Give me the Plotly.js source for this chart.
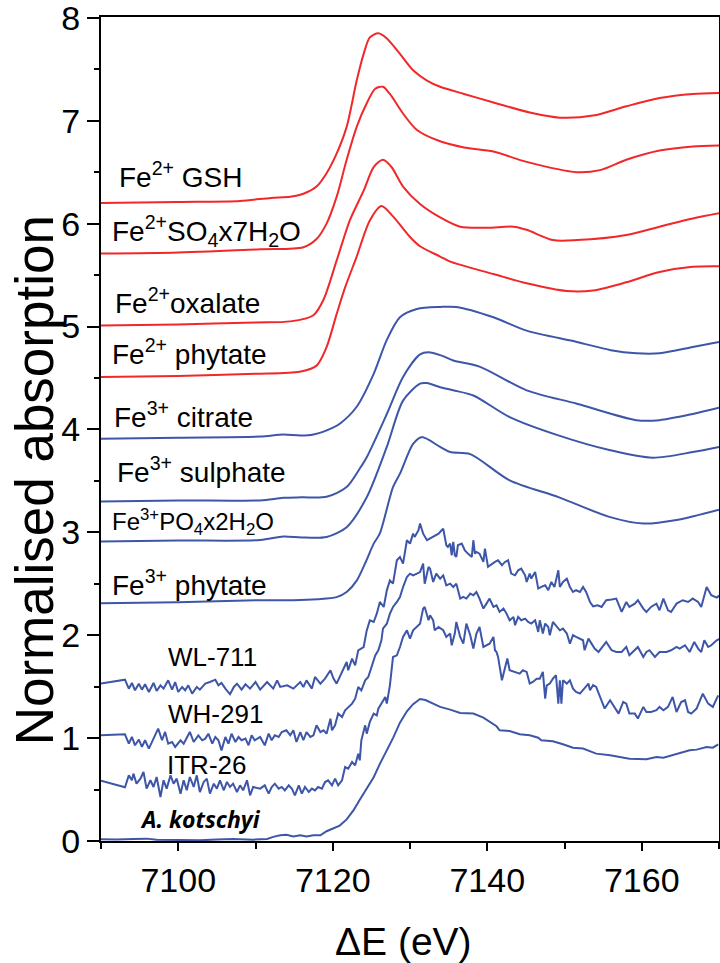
<!DOCTYPE html>
<html>
<head>
<meta charset="utf-8">
<script src="https://cdn.plot.ly/plotly-3.0.1.min.js"></script>
<style>html,body{margin:0;padding:0;background:#fff;}#chart{width:720px;height:963px;}</style>
</head>
<body>
<div id="chart"></div>
<script>
// ---- data: [energy (eV), normalised absorption] ----
const fe2GSH = [[7090,6.20],[7100,6.21],[7108,6.22],[7112,6.25],[7114.5,6.26],[7116.2,6.29],[7117.9,6.36],[7119.2,6.49],[7120.5,6.68],[7121.8,6.94],[7123.1,7.39],[7124,7.65],[7124.8,7.81],[7125.9,7.85],[7127,7.80],[7128.7,7.65],[7130.4,7.49],[7132.2,7.39],[7133.9,7.33],[7137,7.26],[7140.7,7.18],[7145.5,7.08],[7149.4,7.03],[7153.7,7.05],[7158,7.14],[7162.3,7.22],[7166.6,7.26],[7170,7.27]];
const fe2SO4 = [[7090,5.71],[7100,5.72],[7110.6,5.75],[7116.2,5.77],[7117.9,5.85],[7119.2,6.00],[7120.5,6.26],[7121.8,6.62],[7123.1,6.94],[7124.4,7.17],[7125.5,7.31],[7126.5,7.33],[7127.4,7.26],[7129.1,7.07],[7130.9,6.91],[7133.9,6.80],[7137,6.74],[7140.8,6.70],[7145.1,6.60],[7151.6,6.50],[7154.6,6.52],[7158,6.62],[7162.3,6.71],[7166.6,6.75],[7170,6.76]];
const fe2Oxalate = [[7090,5.01],[7100,5.02],[7110,5.04],[7114.5,5.05],[7117.5,5.11],[7118.8,5.26],[7120.5,5.64],[7122.2,6.03],[7124.0,6.32],[7125.3,6.55],[7126.5,6.62],[7127.6,6.55],[7129.1,6.36],[7131.3,6.19],[7133.9,6.06],[7136.5,5.97],[7140,5.96],[7143.4,5.97],[7145.1,5.94],[7148.5,5.84],[7151.6,5.84],[7158,5.89],[7162.3,5.97],[7166.6,6.05],[7170,6.10]];
const fe2Phytate = [[7090,4.51],[7100,4.52],[7110,4.54],[7115.7,4.56],[7117.9,4.62],[7119.2,4.80],[7120.5,5.12],[7121.6,5.38],[7123.1,5.68],[7124.8,6.03],[7126.3,6.17],[7127.8,6.07],[7130,5.87],[7131.3,5.78],[7133.9,5.68],[7135.2,5.63],[7140.8,5.51],[7145.1,5.42],[7150.3,5.345],[7153.7,5.35],[7158,5.43],[7162.3,5.53],[7166.6,5.58],[7170,5.585]];
const fe3Citrate = [[7090,3.91],[7100,3.92],[7110.6,3.93],[7113.6,3.95],[7115.8,3.94],[7117.5,3.95],[7120.1,4.02],[7121.0,4.06],[7123.1,4.22],[7125.3,4.54],[7127.0,4.87],[7128.7,5.09],[7130.9,5.17],[7133.9,5.19],[7136.0,5.19],[7140.8,5.09],[7145.1,4.96],[7151.6,4.85],[7156,4.77],[7159.3,4.74],[7162.3,4.74],[7166.6,4.80],[7170,4.85]];
const fe3Sulphate = [[7090,3.30],[7100,3.31],[7110.6,3.31],[7113.6,3.335],[7116,3.34],[7119.2,3.345],[7121.8,3.44],[7123.5,3.62],[7124.4,3.73],[7127.0,4.15],[7129.1,4.51],[7131.3,4.73],[7132.4,4.75],[7134,4.72],[7135.6,4.67],[7139.0,4.61],[7145.1,4.38],[7151.6,4.25],[7159.3,4.09],[7162.3,4.09],[7166.6,4.15],[7170,4.21]];
const fe3PO4 = [[7090,2.91],[7100,2.92],[7110.6,2.925],[7113.6,2.96],[7116,2.95],[7119.2,2.955],[7121.8,3.05],[7124.4,3.34],[7127.0,3.83],[7129.1,4.28],[7131.3,4.445],[7132.2,4.45],[7133.9,4.41],[7135.6,4.38],[7138.2,4.33],[7142.9,4.12],[7149.3,3.94],[7155.8,3.80],[7161.4,3.725],[7166.6,3.78],[7170,3.83]];
const fe3Phytate = [[7090,2.31],[7100,2.32],[7110.6,2.34],[7114.9,2.34],[7118,2.35],[7120.5,2.37],[7121.8,2.42],[7123.1,2.53],[7124.2,2.70],[7125.3,2.89],[7126.1,2.99],[7127.8,3.44],[7128.7,3.57],[7130.4,3.86],[7131.5,3.925],[7133.9,3.83],[7135.2,3.78],[7137.8,3.76],[7142.9,3.505],[7149.3,3.34],[7155.8,3.15],[7160.2,3.085],[7164.5,3.12],[7170,3.22]];
const wl711 = [[7090,1.53],[7093.1,1.568],[7093.6,1.48],[7094.0,1.536],[7094.4,1.465],[7094.9,1.529],[7095.3,1.471],[7095.7,1.523],[7096.2,1.448],[7096.8,1.536],[7097.2,1.458],[7097.7,1.513],[7098.1,1.481],[7098.7,1.562],[7099.2,1.471],[7099.6,1.545],[7100.0,1.448],[7100.5,1.497],[7100.9,1.465],[7101.3,1.513],[7101.8,1.432],[7102.4,1.497],[7102.8,1.471],[7103.5,1.529],[7104.1,1.545],[7104.8,1.568],[7105.2,1.513],[7105.6,1.536],[7106.1,1.481],[7106.7,1.426],[7107.2,1.497],[7107.6,1.529],[7108.2,1.471],[7108.7,1.523],[7109.3,1.481],[7110.0,1.545],[7110.6,1.471],
[7111.5,1.545],[7112.3,1.481],[7112.8,1.561],[7113.2,1.497],[7114.1,1.513],[7114.9,1.481],[7115.8,1.545],[7116.2,1.497],[7116.6,1.561],[7117.3,1.481],[7117.7,1.594],[7118.4,1.529],[7119.0,1.578],[7119.7,1.659],[7120.1,1.578],[7120.5,1.529],[7120.9,1.594],[7121.4,1.691],[7121.8,1.740],[7122.0,1.659],[7122.5,1.772],[7122.9,1.707],[7123.3,1.853],[7124.0,1.885],[7124.4,2.047],[7124.8,2.144],[7125.3,2.128],[7125.7,2.209],[7126.1,2.323],[7126.6,2.274],[7127.0,2.436],[7127.4,2.533],[7127.8,2.501],[7128.3,2.728],[7128.7,2.760],
[7129.1,2.696],[7129.6,2.923],[7130.0,2.890],[7130.4,2.987],[7130.6,2.955],[7131.1,3.020],[7131.3,3.085],[7131.5,3.020],[7131.7,2.987],[7132.2,2.923],
[7132.6,2.939],[7133.2,2.971],[7133.7,2.987],[7134.1,3.02],[7134.3,3.036],[7134.7,2.874],[7134.9,2.858],[7135.2,2.890],[7135.4,2.777],[7135.6,2.906],[7135.8,2.777],[7136.0,2.761],[7136.2,2.874],[7136.7,2.890],[7137.1,2.825],[7137.5,2.793],[7138.0,2.761],[7138.2,2.923],[7138.4,2.793],[7138.6,2.809],[7139.0,2.793],[7139.5,2.712],[7139.7,2.842],[7140.1,2.664],[7140.6,2.696],[7141.0,2.712],[7141.4,2.728],[7141.9,2.680],[7142.3,2.712],[7142.7,2.728],[7143.1,2.599],[7143.6,2.582],[7144.0,2.631],[7144.4,2.647],[7144.9,2.582],[7145.1,2.518],[7145.5,2.599],[7145.7,2.550],[7146.2,2.615],[7146.6,2.453],[7147.0,2.469],[7147.5,2.485],[7147.9,2.437],[7148.3,2.518],[7148.7,2.469],[7149.2,2.631],[7149.4,2.469],[7149.8,2.518],[7150.3,2.550],[7150.7,2.469],[7151.1,2.420],[7151.5,2.437],[7152.0,2.420],[7152.4,2.469],[7152.8,2.420],[7153.3,2.323],[7153.7,2.281],[7154.3,2.291],[7154.8,2.275],[7155.4,2.340],[7156.1,2.346],[7156.7,2.356],[7157.4,2.226],[7158.0,2.323],[7158.4,2.275],[7159.1,2.307],[7159.5,2.340],[7160.2,2.259],[7160.6,2.226],[7161.2,2.275],[7161.9,2.307],[7162.3,2.242],[7162.8,2.356],[7163.4,2.242],[7163.8,2.226],[7164.5,2.307],[7165.3,2.340],[7166.0,2.323],[7166.6,2.356],[7167.3,2.323],[7167.7,2.275],[7168.4,2.469],[7169.0,2.388],[7169.7,2.365],[7170.1,2.388]];
const wh291 = [[7090,1.027],[7093.1,1.037],[7093.6,0.946],[7094.0,1.011],[7094.4,0.930],[7094.9,0.985],[7095.3,0.914],[7095.7,0.979],[7096.2,0.898],[7096.8,0.995],[7097.4,1.092],[7097.9,0.979],[7098.3,1.060],[7098.7,0.946],[7099.2,0.962],[7099.6,0.914],[7100.3,0.979],[7100.7,0.946],[7101.1,1.011],[7101.5,1.060],[7102.0,0.962],[7102.6,1.027],[7103.1,0.979],[7103.5,0.995],[7103.9,1.043],[7104.4,0.946],[7104.8,1.011],[7105.2,0.979],[7105.6,0.881],[7106.1,1.011],[7106.5,0.946],[7106.9,1.043],[7107.4,0.962],[7107.8,1.011],[7108.2,0.979],[7108.7,0.995],[7109.1,0.930],[7109.5,1.027],[7109.9,0.979],[7110.6,1.011],
[7111.2,0.930],[7111.7,1.043],[7112.1,0.979],[7112.5,1.027],[7113.0,1.011],[7113.4,1.059],[7114.0,1.076],[7114.5,1.027],[7114.9,1.076],[7115.3,0.962],[7115.8,1.059],[7116.2,0.979],[7116.6,1.059],[7117.1,1.011],[7117.5,1.027],[7117.9,1.124],[7118.4,1.059],[7118.8,1.076],[7119.2,1.043],[7119.7,1.189],[7119.9,1.076],[7120.3,1.124],[7120.7,1.238],[7121.2,1.205],[7121.6,1.270],[7122.0,1.302],[7122.5,1.335],[7122.9,1.383],[7123.3,1.497],[7123.7,1.464],[7124.2,1.561],[7124.6,1.594],[7125.0,1.691],[7125.5,1.804],[7125.9,1.853],[7126.3,1.950],[7126.5,2.064],[7127.0,2.112],[7127.4,2.209],[7127.8,2.274],[7128.3,2.323],[7128.7,2.371],[7129.1,2.468],[7129.6,2.566],[7130.0,2.598],[7130.4,2.582],[7130.9,2.598],[7131.3,2.614],[7131.7,2.695],[7131.9,2.501],[7132.4,2.663],
[7132.6,2.647],[7133.0,2.518],[7133.4,2.599],[7133.9,2.550],[7134.3,2.582],[7134.7,2.485],[7135.2,2.501],[7135.6,2.469],[7136.0,2.501],[7136.5,2.356],[7136.9,2.372],[7137.3,2.356],[7137.8,2.404],[7138.2,2.388],[7138.6,2.420],[7139.0,2.356],[7139.5,2.259],[7139.9,2.307],[7140.3,2.356],[7140.8,2.275],[7141.2,2.291],[7141.6,2.226],[7142.1,2.259],[7142.5,2.210],[7142.9,2.145],[7143.4,2.178],[7143.6,2.097],[7144.0,2.178],[7144.4,2.145],[7144.9,2.161],[7145.3,2.129],[7145.7,2.113],[7146.2,2.145],[7146.6,2.032],[7146.8,2.145],[7147.2,2.016],[7147.5,2.113],[7147.9,2.080],[7148.1,2.000],[7148.5,2.129],[7149.0,2.080],[7149.4,2.048],[7149.8,2.064],[7150.3,2.016],[7150.7,1.918],[7151.1,2.000],[7151.5,1.983],[7152.0,1.967],[7152.4,1.951],[7152.6,1.854],[7153.1,1.967],[7153.5,1.918],[7153.9,1.870],[7154.4,1.837],[7155.0,1.902],[7155.4,1.935],[7156.1,1.854],[7156.7,1.837],[7157.4,1.837],[7158.0,1.886],[7158.4,1.805],[7159.1,1.854],[7159.5,1.886],[7160.2,1.789],[7160.6,1.837],[7161.0,1.854],[7161.7,1.789],[7162.3,1.837],[7163.2,1.837],[7163.8,1.854],[7164.5,1.886],[7164.9,1.870],[7165.6,1.902],[7166.2,1.837],[7166.8,1.935],[7167.3,1.870],[7167.7,1.837],[7168.1,1.951],[7168.6,1.886],[7169.0,1.902],[7169.7,1.951],[7170.1,1.967]];
const itr26 = [[7090,0.585],[7093.1,0.522],[7093.6,0.638],[7094.0,0.590],[7094.2,0.655],[7094.6,0.557],[7095.1,0.606],[7095.5,0.671],[7095.9,0.509],[7096.4,0.590],[7096.8,0.525],[7097.2,0.622],[7097.7,0.428],[7098.1,0.590],[7098.5,0.509],[7099.0,0.638],[7099.4,0.557],[7099.8,0.606],[7100.3,0.460],[7100.7,0.590],[7101.1,0.493],[7101.5,0.622],[7102.0,0.525],[7102.4,0.638],[7102.8,0.476],[7103.3,0.574],[7103.7,0.606],[7104.1,0.460],[7104.6,0.557],[7105.0,0.509],[7105.4,0.590],[7105.9,0.493],[7106.3,0.574],[7106.7,0.525],[7107.1,0.557],[7107.6,0.476],[7108.0,0.541],[7108.4,0.493],[7108.9,0.590],[7109.3,0.444],[7109.7,0.525],[7110.4,0.509],
[7110.6,0.509],[7111.2,0.541],[7111.7,0.460],[7112.1,0.525],[7112.5,0.557],[7113.0,0.509],[7113.4,0.525],[7113.8,0.492],[7114.3,0.541],[7114.7,0.509],[7115.1,0.444],[7115.6,0.541],[7116.0,0.460],[7116.4,0.525],[7116.9,0.476],[7117.3,0.509],[7117.7,0.492],[7118.1,0.525],[7118.6,0.509],[7119.0,0.573],[7119.4,0.590],[7119.9,0.541],[7120.3,0.606],[7120.7,0.541],[7121.2,0.590],[7121.6,0.719],[7122.0,0.703],[7122.5,0.768],[7122.9,0.735],[7123.3,0.849],[7123.5,0.784],[7123.7,0.978],[7124.2,1.124],[7124.4,1.043],[7124.8,1.157],[7125.3,1.238],[7125.7,1.221],[7125.9,1.286],[7126.3,1.335],[7126.8,1.400],[7127.0,1.335],[7127.4,1.513],[7127.8,1.788],[7128.3,1.804],[7128.7,1.885],[7129.1,1.983],[7129.6,2.047],[7130.0,1.966],[7130.4,2.047],[7130.9,2.080],[7131.3,2.112],[7131.7,2.258],[7131.9,2.274],[7132.4,2.145],
[7132.6,2.194],[7133.0,2.145],[7133.2,2.048],[7133.7,2.080],[7134.3,2.048],[7134.7,1.983],[7135.2,2.016],[7135.4,1.902],[7135.8,2.016],[7136.0,2.129],[7136.5,1.983],[7136.9,1.918],[7137.3,2.113],[7137.8,2.000],[7138.2,1.870],[7138.6,2.016],[7139.0,2.080],[7139.5,1.886],[7139.9,1.902],[7140.3,1.918],[7140.8,1.983],[7141.0,1.854],[7141.2,1.837],[7141.4,1.789],[7141.9,1.562],[7142.3,1.692],[7142.6,1.773],[7142.9,1.659],[7143.6,1.643],[7144.2,1.627],[7144.6,1.659],[7145.1,1.643],[7145.5,1.530],[7145.9,1.546],[7146.4,1.578],[7146.8,1.578],[7147.2,1.643],[7147.5,1.384],[7147.7,1.513],[7148.1,1.530],[7148.5,1.578],[7148.9,1.611],[7149.2,1.335],[7149.4,1.562],[7149.6,1.335],[7149.8,1.562],[7150.3,1.530],[7150.7,1.562],[7151.1,1.481],[7151.5,1.449],[7152.0,1.432],[7152.6,1.481],[7153.1,1.530],[7153.3,1.465],[7153.7,1.514],[7154.1,1.497],[7154.8,1.368],[7155.2,1.287],[7155.9,1.368],[7156.5,1.303],[7157.0,1.238],[7157.6,1.351],[7158.0,1.335],[7158.4,1.238],[7159.1,1.238],[7159.5,1.190],[7160.2,1.303],[7160.6,1.254],[7161.2,1.254],[7161.9,1.271],[7162.3,1.303],[7162.8,1.271],[7163.4,1.303],[7164.0,1.400],[7164.5,1.254],[7165.1,1.351],[7165.6,1.368],[7166.0,1.254],[7166.4,1.238],[7167.1,1.287],[7167.9,1.432],[7168.6,1.335],[7169.2,1.303],[7169.9,1.416]];
const aKotschyi = [[7090,0.017],[7092,0.015],[7094.2,0.020],[7095.9,0.023],[7097.2,0.013],[7100,0.012],[7102.8,0.007],[7105,0.015],[7107.1,0.020],[7109.7,0.013],[7111.5,0.02],[7112.3,0.04],[7113.2,0.055],[7114,0.06],[7114.9,0.045],[7115.8,0.055],[7116.6,0.045],[7117.5,0.055],[7118.4,0.055],[7119.2,0.095],[7120.1,0.125],[7120.9,0.15],[7121.8,0.21],[7122.7,0.30],[7123.5,0.40],[7124.4,0.51],[7125.3,0.62],[7126.1,0.75],[7127.0,0.88],[7127.8,1.0],[7128.7,1.15],[7129.6,1.26],[7130.4,1.33],[7131.3,1.38],[7132.0,1.37],[7132.6,1.351],[7133.9,1.303],[7135.2,1.277],[7136.5,1.244],[7138.2,1.238],[7139.5,1.199],[7141.2,1.115],[7141.6,1.076],[7142.9,1.069],[7144.2,1.037],[7145.5,1.027],[7146.6,1.004],[7147.0,0.979],[7148.5,0.969],[7149.8,0.940],[7151.1,0.907],[7152.4,0.898],[7154.1,0.849],[7155.9,0.833],[7158.4,0.800],[7160.6,0.794],[7161.9,0.817],[7162.8,0.810],[7164.5,0.849],[7166.2,0.881],[7167.1,0.888],[7168.4,0.914],[7169.2,0.907],[7169.9,0.940]];

// labels: [text, energy, absorption]
const labels = [
  ['Fe<sup>2+</sup> GSH', 7092.1, 6.47],
  ['Fe<sup>2+</sup>SO<sub>4</sub>x7H<sub>2</sub>O', 7091.2, 5.93],
  ['Fe<sup>2+</sup>oxalate', 7091.6, 5.25],
  ['Fe<sup>2+</sup> phytate', 7091.2, 4.755],
  ['Fe<sup>3+</sup> citrate', 7091.4, 4.14],
  ['Fe<sup>3+</sup> sulphate', 7091.8, 3.61],
  ['Fe<sup>3+</sup>PO<sub>4</sub>x2H<sub>2</sub>O', 7091.2, 3.10],
  ['Fe<sup>3+</sup> phytate', 7091.2, 2.505],
  ['WL-711', 7098.4, 1.785],
  ['WH-291', 7098.4, 1.23],
  ['ITR-26', 7098.3, 0.735],
  ['<b><i>A. kotschyi</i></b>', 7094.8, 0.21]
];
const labelSizes = [28,28,28,28,28,28,24,28,26,26,26,23];
const yTitle = 'Normalised absorption';
const xTitle = 'ΔE (eV)';

const RED = '#f0282a', BLUE = '#3d56a8';
const FONT = 'Liberation Sans, Arial, sans-serif';

function tr(pts, color, smooth) {
  return {
    x: pts.map(p => p[0]), y: pts.map(p => p[1]),
    type: 'scatter', mode: 'lines',
    line: {color: color, width: 2, shape: smooth ? 'spline' : 'linear', smoothing: 0.8},
    hoverinfo: 'skip', showlegend: false
  };
}

const traces = [
  tr(fe2GSH, RED, true), tr(fe2SO4, RED, true), tr(fe2Oxalate, RED, true), tr(fe2Phytate, RED, true),
  tr(fe3Citrate, BLUE, true), tr(fe3Sulphate, BLUE, true), tr(fe3PO4, BLUE, true), tr(fe3Phytate, BLUE, true),
  tr(wl711, BLUE, false), tr(wh291, BLUE, false), tr(itr26, BLUE, false), tr(aKotschyi, BLUE, false)
];

const annotations = labels.map((l, i) => ({
  text: l[0], x: l[1], y: l[2], xref: 'x', yref: 'y',
  xanchor: 'left', yanchor: 'middle', showarrow: false,
  font: {family: i === 11 ? 'Open Sans, sans-serif' : FONT, size: labelSizes[i], color: '#000'}
}));
annotations.push({
  text: yTitle, xref: 'paper', yref: 'paper', x: -0.108, y: 0.438,
  xanchor: 'center', yanchor: 'middle', textangle: -90, showarrow: false,
  font: {family: FONT, size: 53, color: '#000'}
});
annotations.push({
  text: xTitle, xref: 'paper', yref: 'paper', x: 0.49, y: -0.1215,
  xanchor: 'center', yanchor: 'middle', showarrow: false,
  font: {family: FONT, size: 39, color: '#000'}
});

const layout = {
  width: 720, height: 963,
  margin: {l: 101, r: 1, t: 17, b: 122},
  paper_bgcolor: '#fff', plot_bgcolor: '#fff',
  font: {family: FONT, color: '#000'},
  xaxis: {
    range: [7090, 7170], tick0: 7100, dtick: 20,
    ticks: 'outside', ticklen: 8, tickwidth: 2, tickcolor: '#000',
    minor: {dtick: 10, tick0: 7090, ticks: 'outside', ticklen: 6, tickwidth: 2, tickcolor: '#000'},
    showline: true, linecolor: '#000', linewidth: 2, mirror: true,
    showgrid: false, zeroline: false,
    tickfont: {size: 34, family: FONT}
  },
  yaxis: {
    range: [0, 8.008], tickmode: 'array', tickvals: [0,1,2,3,4,5,6,7,8],
    ticks: 'outside', ticklen: 12, tickwidth: 2, tickcolor: '#000',
    ticklabeloverflow: 'allow',
    minor: {tickmode: 'array', tickvals: [0.5,1.5,2.5,3.5,4.5,5.5,6.5,7.5], ticks: 'outside', ticklen: 5, tickwidth: 2, tickcolor: '#000'},
    showline: true, linecolor: '#000', linewidth: 2, mirror: true,
    showgrid: false, zeroline: false,
    tickfont: {size: 34, family: FONT}
  },
  annotations: annotations
};

Plotly.newPlot('chart', traces, layout, {staticPlot: true, displayModeBar: false});
</script>
</body>
</html>
